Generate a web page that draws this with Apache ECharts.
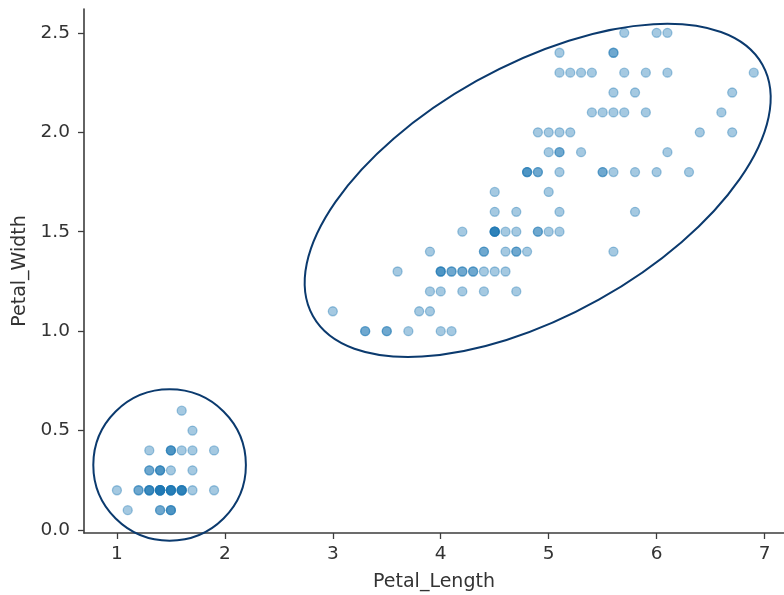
<!DOCTYPE html>
<html>
<head>
<meta charset="utf-8">
<script src="https://cdn.jsdelivr.net/npm/echarts@6/dist/echarts.min.js"></script>
<style>
  html, body { margin: 0; padding: 0; background: #fff; }
  #chart { width: 784px; height: 595px; }
</style>
</head>
<body>
<div id="chart"></div>
<script>
// Iris petal measurements (setosa, versicolor, virginica in order)
const petalLength = [
  1.4,1.4,1.3,1.5,1.4,1.7,1.4,1.5,1.4,1.5,1.5,1.6,1.4,1.1,1.2,1.5,1.3,1.4,1.7,1.5,
  1.7,1.5,1.0,1.7,1.9,1.6,1.6,1.5,1.4,1.6,1.6,1.5,1.5,1.4,1.5,1.2,1.3,1.4,1.3,1.5,
  1.3,1.3,1.3,1.6,1.9,1.4,1.6,1.4,1.5,1.4,
  4.7,4.5,4.9,4.0,4.6,4.5,4.7,3.3,4.6,3.9,3.5,4.2,4.0,4.7,3.6,4.4,4.5,4.1,4.5,3.9,
  4.8,4.0,4.9,4.7,4.3,4.4,4.8,5.0,4.5,3.5,3.8,3.7,3.9,5.1,4.5,4.5,4.7,4.4,4.1,4.0,
  4.4,4.6,4.0,3.3,4.2,4.2,4.2,4.3,3.0,4.1,
  6.0,5.1,5.9,5.6,5.8,6.6,4.5,6.3,5.8,6.1,5.1,5.3,5.5,5.0,5.1,5.3,5.5,6.7,6.9,5.0,
  5.7,4.9,6.7,4.9,5.7,6.0,4.8,4.9,5.6,5.8,6.1,6.4,5.6,5.1,5.6,6.1,5.6,5.5,4.8,5.4,
  5.6,5.1,5.1,5.9,5.7,5.2,5.0,5.2,5.4,5.1
];
const petalWidth = [
  0.2,0.2,0.2,0.2,0.2,0.4,0.3,0.2,0.2,0.1,0.2,0.2,0.1,0.1,0.2,0.4,0.4,0.3,0.3,0.3,
  0.2,0.4,0.2,0.5,0.2,0.2,0.4,0.2,0.2,0.2,0.2,0.4,0.1,0.2,0.1,0.2,0.2,0.1,0.2,0.2,
  0.3,0.3,0.2,0.6,0.4,0.3,0.2,0.2,0.2,0.2,
  1.4,1.5,1.5,1.3,1.5,1.3,1.6,1.0,1.3,1.4,1.0,1.5,1.0,1.4,1.3,1.4,1.5,1.0,1.5,1.1,
  1.8,1.3,1.5,1.2,1.3,1.4,1.4,1.7,1.5,1.0,1.1,1.0,1.2,1.6,1.5,1.6,1.5,1.3,1.3,1.3,
  1.2,1.4,1.2,1.0,1.3,1.2,1.3,1.3,1.1,1.3,
  2.5,1.9,2.1,1.8,2.2,2.1,1.7,1.8,1.8,2.5,2.0,1.9,2.1,2.0,2.4,2.3,1.8,2.2,2.3,1.5,
  2.3,2.0,2.0,1.8,2.1,1.8,1.8,1.8,2.1,1.6,1.9,2.0,2.2,1.5,1.4,2.3,2.4,1.8,1.8,2.1,
  2.4,2.3,1.9,2.3,2.5,2.3,1.9,2.0,2.3,1.8
];

// Tick positions
const xTicks = [1, 2, 3, 4, 5, 6, 7];
const yTicks = [0.0, 0.5, 1.0, 1.5, 2.0, 2.5];

// Cluster outlines: centres in data units
const clusterCentres = [[4.898, 1.708], [1.488, 0.327]];
// Outline geometry (pixels / degrees), one entry per centre
const outlineShape = [
  { rx: 257.5, ry: 125.3, angle: 29.2 },
  { rx: 76.3, ry: 75.7, angle: 0 }
];

const points = petalLength.map((x, i) => [x, petalWidth[i]]);

const FONT = 'DejaVu Sans';
const TEXT = '#333333';
const AXIS = '#3d3d3d';

const chart = echarts.init(document.getElementById('chart'), null, { renderer: 'canvas' });

chart.setOption({
  animation: false,
  backgroundColor: '#ffffff',
  grid: { left: 84, right: 0, top: 9, bottom: 62, outerBoundsMode: 'none' },
  xAxis: {
    type: 'value',
    min: 0.695,
    max: 7.18,
    name: 'Petal_Length',
    nameLocation: 'middle',
    nameGap: 40,
    nameTextStyle: { fontFamily: FONT, fontSize: 19, color: TEXT },
    splitLine: { show: false },
    axisLine: { show: true, onZero: false, lineStyle: { color: AXIS, width: 1.6 } },
    axisTick: { show: true, inside: false, length: 6, customValues: xTicks, lineStyle: { color: AXIS, width: 1.3 } },
    axisLabel: { customValues: xTicks, margin: 12, fontFamily: FONT, fontSize: 18.5, color: TEXT,
      formatter: v => String(v) }
  },
  yAxis: {
    type: 'value',
    min: -0.015,
    max: 2.62,
    name: 'Petal_Width',
    nameLocation: 'middle',
    nameGap: 52,
    nameRotate: 90,
    nameTextStyle: { fontFamily: FONT, fontSize: 19, color: TEXT },
    splitLine: { show: false },
    axisLine: { show: true, onZero: false, lineStyle: { color: AXIS, width: 1.6 } },
    axisTick: { show: true, inside: false, length: 6, customValues: yTicks, lineStyle: { color: AXIS, width: 1.3 } },
    axisLabel: { customValues: yTicks, margin: 14, fontFamily: FONT, fontSize: 18.5, color: TEXT,
      formatter: v => v.toFixed(1) }
  },
  series: [
    {
      type: 'scatter',
      data: points,
      symbol: 'circle',
      symbolSize: 9,
      itemStyle: {
        color: 'rgba(31,119,180,0.5)',
        borderColor: 'rgba(31,119,180,0.5)',
        borderWidth: 1.3
      },
      emphasis: { disabled: true }
    },
    {
      type: 'custom',
      coordinateSystem: 'cartesian2d',
      clip: false,
      silent: true,
      z: 5,
      data: clusterCentres,
      encode: { x: 0, y: 1 },
      renderItem: function (params, api) {
        const c = api.coord([api.value(0), api.value(1)]);
        const g = outlineShape[params.dataIndex];
        return {
          type: 'ellipse',
          x: c[0],
          y: c[1],
          rotation: g.angle * Math.PI / 180,
          shape: { cx: 0, cy: 0, rx: g.rx, ry: g.ry },
          style: { fill: 'none', stroke: '#0b3a6e', lineWidth: 2 }
        };
      }
    }
  ]
});
</script>
</body>
</html>
